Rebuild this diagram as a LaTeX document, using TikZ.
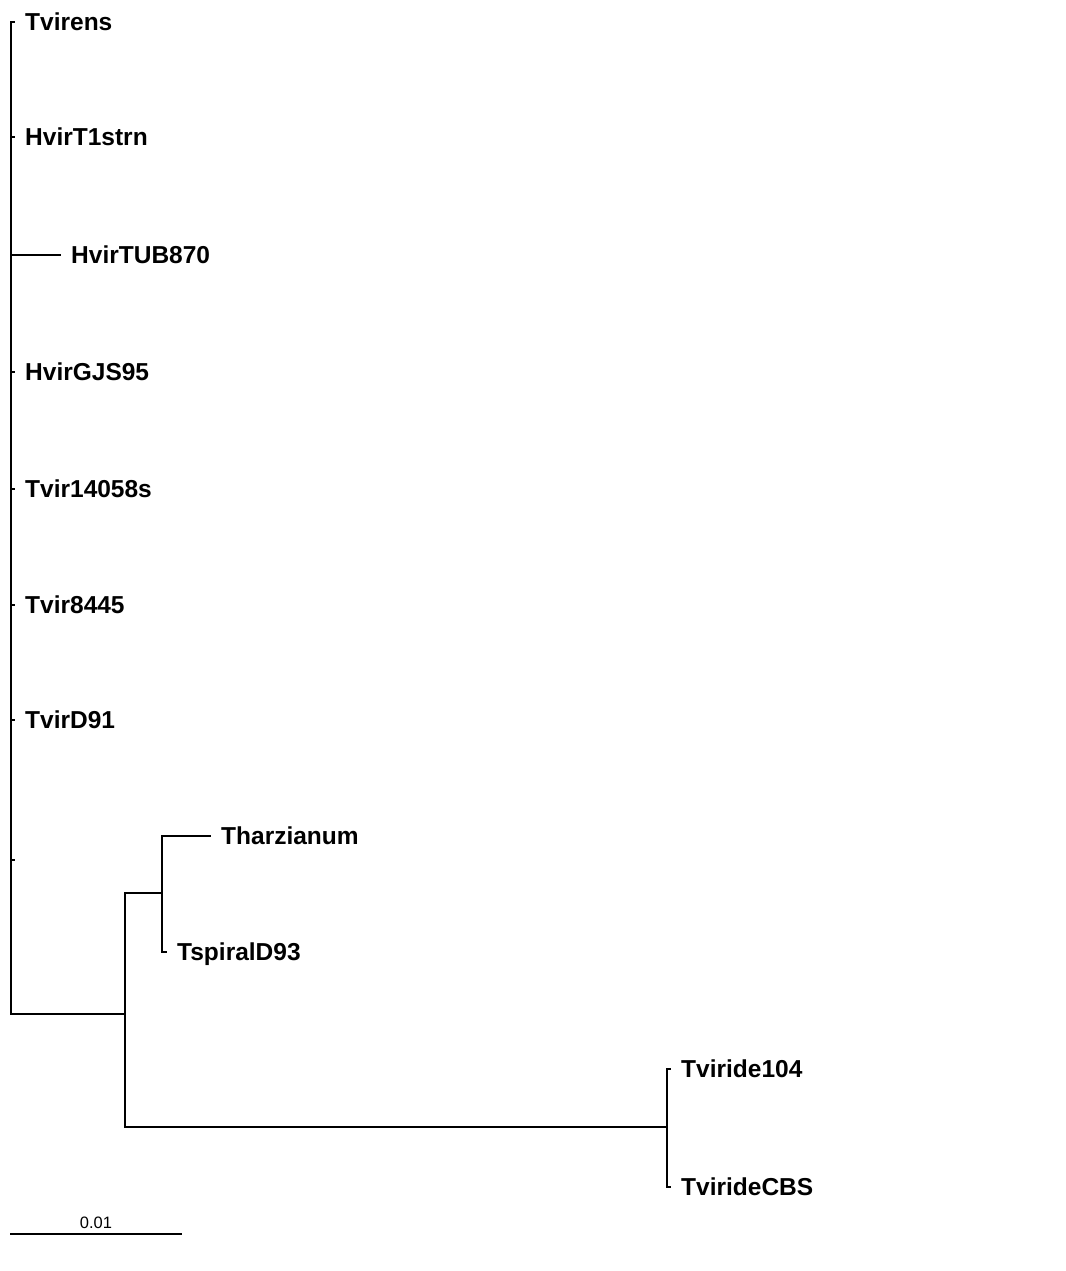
\documentclass[tikz,border=0pt]{standalone}
\usepackage{fontspec}
\setmainfont{Liberation Sans}
\begin{document}
\begin{tikzpicture}[x=1pt,y=-1pt,
  branch/.style={line width=1.7pt,line cap=rect},
  leaf/.style={font=\fontsize{24.5}{28}\selectfont\bfseries,anchor=base west,inner sep=0pt,xshift=11pt,yshift=-8.7pt},
  scalelbl/.style={font=\fontsize{16.5}{18}\selectfont,anchor=base,inner sep=0pt}]
\useasboundingbox (0,0) rectangle (1065,1271);
% internal nodes
\coordinate (R) at (11,727);
\coordinate (P) at (11,440);
\coordinate (C1) at (125,1014);
\coordinate (C2) at (162,893);
\coordinate (C3) at (667,1127);
% leaf tips
\coordinate (t1) at (14,22);
\coordinate (t2) at (14,137);
\coordinate (t3) at (60,255);
\coordinate (t4) at (14,372);
\coordinate (t5) at (14,489);
\coordinate (t6) at (14,605);
\coordinate (t7) at (14,720);
\coordinate (t8) at (14,860);
\coordinate (t9) at (210,836);
\coordinate (t10) at (166,952);
\coordinate (t11) at (670,1069);
\coordinate (t12) at (670,1187);
% labels
\node[leaf] (l1) at (t1) {Tvirens};
\node[leaf] (l2) at (t2) {HvirT1strn};
\node[leaf] (l3) at (t3) {HvirTUB870};
\node[leaf] (l4) at (t4) {HvirGJS95};
\node[leaf] (l5) at (t5) {Tvir14058s};
\node[leaf] (l6) at (t6) {Tvir8445};
\node[leaf] (l7) at (t7) {TvirD91};
\node[leaf] (l9) at (t9) {Tharzianum};
\node[leaf] (l10) at (t10) {TspiralD93};
\node[leaf] (l11) at (t11) {Tviride104};
\node[leaf] (l12) at (t12) {TvirideCBS};
% branches
\draw[branch] (R) |- (P);
\draw[branch] (R) |- (C1);
\foreach \t in {t1,t2,t3,t4,t5,t6,t7,t8} \draw[branch] (P) |- (\t);
\draw[branch] (C1) |- (C2);
\draw[branch] (C1) |- (C3);
\draw[branch] (C2) |- (t9);
\draw[branch] (C2) |- (t10);
\draw[branch] (C3) |- (t11);
\draw[branch] (C3) |- (t12);
% scale bar
\coordinate (s1) at (11,1234);
\coordinate (s2) at (181,1234);
\draw[branch] (s1) -- (s2);
\node[scalelbl] (sl) at (96,1228) {0.01};
\end{tikzpicture}
\end{document}
